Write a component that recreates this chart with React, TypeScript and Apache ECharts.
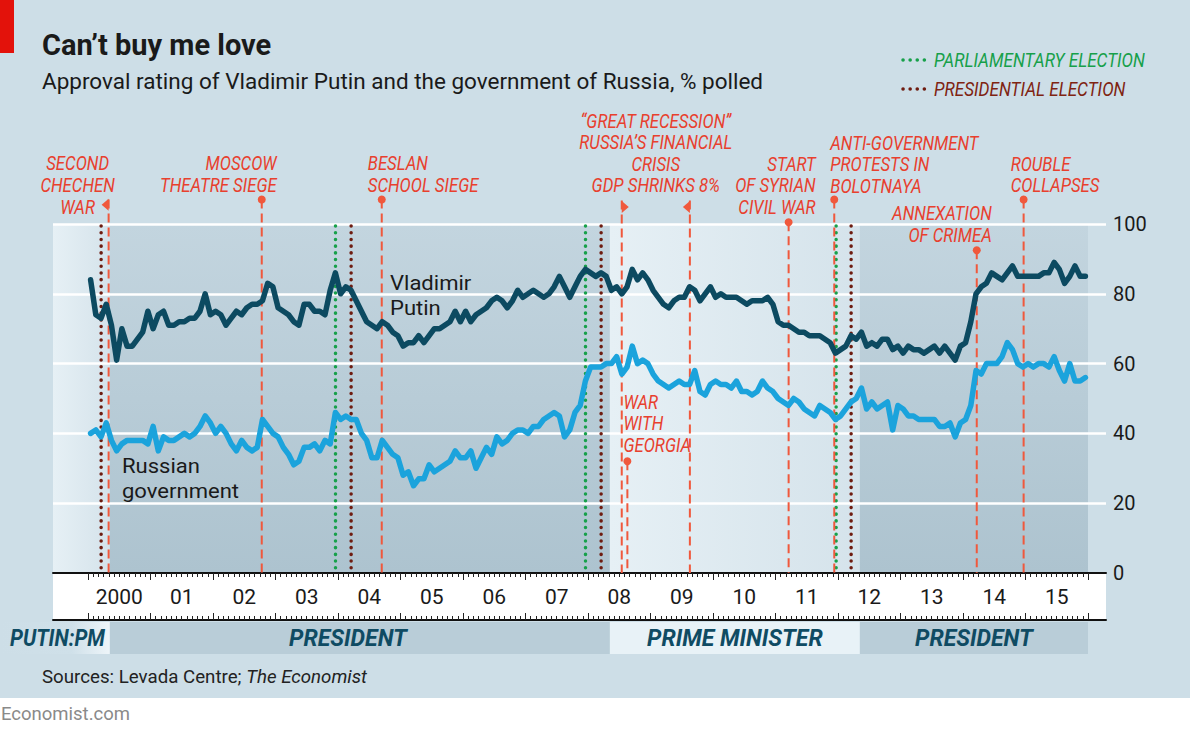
import React, { useEffect, useRef } from 'react';
import * as echarts from 'echarts';

// Monthly approval, Jan 2000 - Dec 2015, % polled
const putinApproval = [
  84, 74, 73, 77, 71, 61, 70, 65, 65, 67,
  69, 75, 70, 74, 75, 71, 71, 72, 72, 73,
  73, 75, 80, 74, 75, 74, 71, 73, 75, 74,
  76, 77, 77, 78, 83, 82, 76, 75, 74, 72,
  71, 77, 77, 75, 75, 74, 81, 86, 80, 82,
  81, 78, 75, 72, 71, 70, 72, 71, 69, 68,
  65, 66, 66, 68, 66, 68, 70, 70, 71, 72,
  75, 72, 75, 72, 74, 75, 76, 78, 79, 78,
  76, 78, 81, 79, 80, 81, 80, 79, 80, 82,
  85, 82, 79, 82, 85, 87, 86, 85, 86, 85,
  81, 82, 80, 82, 87, 84, 86, 84, 81, 79,
  77, 76, 78, 79, 79, 82, 81, 78, 80, 82,
  79, 80, 79, 79, 79, 78, 77, 78, 78, 78,
  79, 77, 72, 71, 71, 70, 69, 69, 68, 68,
  68, 67, 66, 63, 64, 65, 68, 67, 69, 65,
  66, 65, 67, 67, 64, 65, 63, 65, 64, 64,
  63, 64, 65, 63, 65, 63, 61, 65, 66, 72,
  80, 82, 83, 86, 85, 84, 86, 88, 85, 85,
  85, 85, 85, 86, 86, 89, 87, 83, 85, 88,
  85, 85,
];

const governmentApproval = [
  40, 41, 39, 43, 38, 35, 37, 38, 38, 38,
  38, 37, 42, 35, 39, 38, 38, 39, 40, 39,
  40, 42, 45, 43, 40, 42, 40, 37, 35, 38,
  36, 35, 36, 44, 42, 40, 39, 36, 34, 31,
  32, 36, 36, 37, 35, 38, 37, 46, 44, 45,
  44, 44, 40, 38, 33, 33, 38, 36, 34, 33,
  28, 29, 25, 27, 27, 31, 29, 30, 31, 32,
  35, 33, 33, 35, 30, 33, 36, 34, 39, 37,
  38, 40, 41, 41, 40, 42, 42, 44, 45, 46,
  45, 39, 41, 46, 48, 55, 59, 59, 59, 60,
  60, 62, 57, 59, 65, 60, 61, 60, 57, 55,
  54, 53, 54, 55, 54, 54, 58, 52, 51, 54,
  55, 54, 54, 53, 55, 52, 52, 51, 52, 55,
  53, 52, 50, 49, 48, 50, 49, 47, 46, 45,
  48, 47, 46, 44, 45, 47, 49, 50, 53, 47,
  49, 47, 48, 49, 41, 48, 47, 45, 45, 44,
  44, 44, 44, 42, 42, 43, 39, 43, 44, 48,
  58, 57, 60, 60, 60, 62, 66, 64, 60, 59,
  60, 59, 60, 60, 59, 62, 58, 55, 60, 55,
  55, 56,
];

const yearTickLabels = ['2000', '01', '02', '03', '04', '05', '06', '07', '08', '09', '10', '11', '12', '13', '14', '15'];

// Election dates (decimal years)
const parliamentaryElections = [2003.96, 2007.96, 2011.97];
const presidentialElections = [2000.21, 2004.21, 2008.21, 2012.21];

// Event dates (decimal years)
const eventChechenWar = 2000.33;
const eventMoscowTheatre = 2002.78;
const eventBeslan = 2004.7;
const eventRecessionStart = 2008.54;
const eventRecessionEnd = 2009.63;
const eventGeorgia = 2008.63;
const eventSyria = 2011.21;
const eventBolotnaya = 2011.94;
const eventCrimea = 2014.22;
const eventRouble = 2014.97;

// Putin's roles
const roleLabels = ['PUTIN:PM', 'PRESIDENT', 'PRIME MINISTER', 'PRESIDENT'];
const roleStarts = [1999.44, 2000.35, 2008.35, 2012.35];
const roleEnds = [2000.35, 2008.35, 2012.35, 2016.0];
const roleIsPM = [true, false, true, false];

const FONT = 'Roboto, "Noto Sans", "DejaVu Sans", sans-serif';
const RED_TEXT = '#e8402e';
const RED_LINE = '#f0583c';
const GREEN = '#17a04a';
const BROWN = '#6e1c10';
const BROWN_TEXT = '#7f2412';
const PUTIN_COLOR = '#0c4a61';
const GOV_COLOR = '#1ba3dc';
const ROLE_TEXT = '#0f4b63';

export default function App() {
  const ref = useRef<HTMLDivElement>(null);

  useEffect(() => {
    if (!ref.current) return;
    const chart = echarts.init(ref.current, undefined, { renderer: 'svg' });

    const X_MIN = 1999.44;
    const X_MAX = 2016.288;
    const STRIP = 47;
    const monthTicks: number[] = [];
    for (let k = 0; k <= 16 * 12; k++) monthTicks.push(2000 + k / 12);
    const yearTicks: number[] = [];
    for (let k = 0; k <= 16; k++) yearTicks.push(2000 + k);
    const yearLabelPos = yearTickLabels.map((_, k) => 2000 + k + 0.5);
    const toSeries = (vals: number[]) => vals.map((v, i) => [2000 + (i + 0.5) / 12, v]);

    const tickLine = { color: '#222', width: 1 };
    const baseAxis: any = {
      type: 'value',
      min: X_MIN,
      max: X_MAX,
      position: 'bottom',
      splitLine: { show: false },
      axisLabel: { show: false },
      axisTick: { show: false },
      axisLine: { show: false, onZero: false },
    };

    const presGrad = new echarts.graphic.LinearGradient(0, 0, 0, 1, [
      { offset: 0, color: '#c3d5df' },
      { offset: 1, color: '#adc3cf' },
    ]);
    const pmGrad = new echarts.graphic.LinearGradient(0, 0, 1, 0, [
      { offset: 0, color: '#e6f0f5' },
      { offset: 1, color: '#d5e3eb' },
    ]);

    chart.setOption({
      animation: false,
      grid: { left: 53, right: 84, top: 224, bottom: 159, containLabel: false, outerBoundsMode: 'none' },
      xAxis: [
        {
          ...baseAxis,
          axisLine: { show: true, onZero: false, lineStyle: { color: '#111', width: 2 } },
          axisTick: { show: true, customValues: monthTicks, length: 4, lineStyle: tickLine },
          axisLabel: {
            show: true,
            customValues: yearLabelPos,
            formatter: (v: number) => yearTickLabels[Math.floor(v) - 2000] ?? '',
            margin: 13,
            fontSize: 21,
            color: '#1a1a1a',
            fontFamily: FONT,
          },
        },
        { ...baseAxis, axisTick: { show: true, customValues: yearTicks, length: 7, lineStyle: tickLine } },
        {
          ...baseAxis,
          offset: STRIP,
          axisLine: { show: true, onZero: false, lineStyle: { color: '#111', width: 2 } },
          axisTick: { show: true, inside: true, customValues: monthTicks, length: 4, lineStyle: tickLine },
        },
        { ...baseAxis, offset: STRIP, axisTick: { show: true, inside: true, customValues: yearTicks, length: 7, lineStyle: tickLine } },
      ],
      yAxis: {
        type: 'value',
        min: 0,
        max: 100,
        interval: 20,
        position: 'right',
        axisLine: { show: false },
        axisTick: { show: false },
        axisLabel: { margin: 7, fontSize: 20, color: '#1a1a1a', fontFamily: FONT },
        splitLine: { show: true, lineStyle: { color: '#ffffff', width: 2.5 } },
      },
      series: [
        {
          type: 'line',
          name: 'roles',
          data: [],
          symbol: 'none',
          silent: true,
          markArea: {
            silent: true,
            z: -1,
            data: roleLabels.map((_, k) => [
              { xAxis: roleStarts[k], itemStyle: { color: roleIsPM[k] ? pmGrad : presGrad } },
              { xAxis: roleEnds[k] },
            ]),
          },
        },
        {
          type: 'line',
          name: 'Russian government',
          data: toSeries(governmentApproval),
          symbol: 'none',
          z: 3,
          lineStyle: { color: GOV_COLOR, width: 5.5, join: 'round', cap: 'round' },
        },
        {
          type: 'line',
          name: 'Vladimir Putin',
          data: toSeries(putinApproval),
          symbol: 'none',
          z: 4,
          lineStyle: { color: PUTIN_COLOR, width: 5.5, join: 'round', cap: 'round' },
        },
      ],
    });

    const px = (v: number) => chart.convertToPixel({ xAxisIndex: 0 }, v) as number;
    const py = (v: number) => chart.convertToPixel({ yAxisIndex: 0 }, v) as number;
    const gBottom = py(0);
    const gTop = py(100);
    const stripBottom = gBottom + STRIP;

    const text = (
      str: string,
      x: number,
      y: number,
      align: string,
      o: { size?: number; color?: string; italic?: boolean; weight?: string | number; scaleX?: number; lineHeight?: number; vAlign?: string } = {}
    ) => ({
      type: 'text',
      x,
      y,
      z: 30,
      scaleX: o.scaleX ?? 1,
      silent: true,
      style: {
        text: str,
        fill: o.color ?? '#1a1a1a',
        fontSize: o.size ?? 18,
        fontFamily: FONT,
        fontStyle: o.italic ? 'italic' : 'normal',
        fontWeight: o.weight ?? 'normal',
        lineHeight: o.lineHeight,
        align,
        verticalAlign: o.vAlign ?? 'middle',
      },
    });
    // multi-line red annotation; y = centre of first row
    const redText = (rows: string[], x: number, y: number, align: string, gap: number) =>
      text(rows.join('\n'), x, y - gap / 2, align, {
        size: 19.5, color: RED_TEXT, italic: true, scaleX: 0.86, lineHeight: gap, vAlign: 'top',
      });

    const els: any[] = [];
    // page background
    els.push({ type: 'rect', z: -100, silent: true, shape: { x: 0, y: 0, width: 1190, height: 698 }, style: { fill: '#cddee7' } });
    els.push({ type: 'rect', z: 30, silent: true, shape: { x: 0, y: 0, width: 14, height: 53 }, style: { fill: '#e3120b' } });
    // axis strip
    els.push({
      type: 'rect', z: -50, silent: true,
      shape: { x: px(X_MIN), y: gBottom, width: px(X_MAX) - px(X_MIN), height: STRIP },
      style: { fill: '#ffffff' },
    });
    // role bands below axis
    const bandY = stripBottom + 2;
    const bandH = 32;
    roleLabels.forEach((lab, k) => {
      const x0 = k === 0 ? 0 : px(roleStarts[k]);
      const x1 = px(roleEnds[k]);
      const fill = k === 0
        ? new echarts.graphic.LinearGradient(0, 0, 1, 0, [
            { offset: 0, color: '#cddee7' },
            { offset: 0.65, color: '#cfe0e9' },
            { offset: 1, color: '#eef5f9' },
          ])
        : roleIsPM[k] ? '#e8f2f7' : '#b9cdd8';
      els.push({ type: 'rect', z: -40, silent: true, shape: { x: x0, y: bandY, width: x1 - x0, height: bandH }, style: { fill } });
      const tx = k === 0 ? 10 : k === 1 ? px(2004.16) : (x0 + x1) / 2;
      els.push(text(lab, tx, bandY + bandH / 2, k === 0 ? 'left' : 'center', {
        size: 23, color: ROLE_TEXT, italic: true, weight: 'bold', scaleX: k === 0 ? 0.9 : 1,
      }));
    });

    // election lines
    const dotted = (x: number, color: string) => ({
      type: 'line', z: 1, silent: true,
      shape: { x1: x, y1: gTop + 2, x2: x, y2: gBottom },
      style: { stroke: color, lineWidth: 3.5, lineDash: [0.1, 6.6], lineCap: 'round' },
    });
    parliamentaryElections.forEach((d) => els.push(dotted(px(d), GREEN)));
    presidentialElections.forEach((d) => els.push(dotted(px(d), BROWN)));

    // event lines
    const dashed = (x: number, yTop: number) => ({
      type: 'line', z: 1, silent: true,
      shape: { x1: x, y1: yTop, x2: x, y2: gBottom },
      style: { stroke: RED_LINE, lineWidth: 2, lineDash: [9, 5] },
    });
    const dot = (x: number, y: number) => ({
      type: 'circle', z: 1, silent: true, shape: { cx: x, cy: y, r: 4 }, style: { fill: RED_LINE },
    });
    const tri = (x: number, y: number, dir: number) => ({
      type: 'polygon', z: 1, silent: true,
      shape: { points: [[x, y - 6], [x, y + 6], [x + dir * 7, y]] },
      style: { fill: RED_LINE },
    });

    const xChe = px(eventChechenWar);
    els.push(dashed(xChe, py(107)), tri(xChe, py(105.5), -1));
    els.push(redText(['SECOND', 'CHECHEN', 'WAR'], xChe - 31, 163, 'center', 22));

    const xMos = px(eventMoscowTheatre);
    els.push(dashed(xMos, py(107)), dot(xMos, py(107)));
    els.push(redText(['MOSCOW', 'THEATRE SIEGE'], xMos + 15, 163, 'right', 22));

    const xBes = px(eventBeslan);
    els.push(dashed(xBes, py(107)), dot(xBes, py(107)));
    els.push(redText(['BESLAN', 'SCHOOL SIEGE'], xBes - 14, 163, 'left', 22));

    const xR0 = px(eventRecessionStart);
    const xR1 = px(eventRecessionEnd);
    els.push(dashed(xR0, py(106.7)), tri(xR0, py(104.9), 1));
    els.push(dashed(xR1, py(106.7)), tri(xR1, py(104.9), -1));
    els.push(redText(['\u201CGREAT RECESSION\u201D', 'RUSSIA\u2019S FINANCIAL', 'CRISIS', 'GDP SHRINKS 8%'], (xR0 + xR1) / 2, 121, 'center', 21.5));

    const xGeo = px(eventGeorgia);
    els.push(dashed(xGeo, py(32)), dot(xGeo, py(32)));
    els.push(redText(['WAR', 'WITH', 'GEORGIA'], xGeo - 4, 402, 'left', 21.5));

    const xSyr = px(eventSyria);
    els.push(dashed(xSyr, py(100.5)), dot(xSyr, py(100.5)));
    els.push(redText(['START', 'OF SYRIAN', 'CIVIL WAR'], xSyr + 27, 164, 'right', 21.5));

    const xBol = px(eventBolotnaya);
    els.push(dashed(xBol, py(107)), dot(xBol, py(107)));
    els.push(redText(['ANTI-GOVERNMENT', 'PROTESTS IN', 'BOLOTNAYA'], xBol - 4, 143, 'left', 21.5));

    const xCri = px(eventCrimea);
    els.push(dashed(xCri, py(92.5)), dot(xCri, py(92.5)));
    els.push(redText(['ANNEXATION', 'OF CRIMEA'], xCri + 15, 213, 'right', 22));

    const xRou = px(eventRouble);
    els.push(dashed(xRou, py(107)), dot(xRou, py(107)));
    els.push(redText(['ROUBLE', 'COLLAPSES'], xRou - 13, 164, 'left', 21.5));

    // series labels
    els.push(text('Vladimir\nPutin', 390, 283 - 12.25, 'left', { size: 21, lineHeight: 24.5, vAlign: 'top', scaleX: 1.05 }));
    els.push(text('Russian\ngovernment', 122, 466 - 12.25, 'left', { size: 21, lineHeight: 24.5, vAlign: 'top', scaleX: 1.05 }));

    // titles
    els.push(text('Can\u2019t buy me love', 42, 45, 'left', { size: 29, weight: 'bold' }));
    els.push(text('Approval rating of Vladimir Putin and the government of Russia, % polled', 42, 81, 'left', { size: 22.5 }));

    // legend
    els.push({ type: 'line', z: 30, silent: true, shape: { x1: 903, y1: 60, x2: 925, y2: 60 }, style: { stroke: GREEN, lineWidth: 3.5, lineDash: [0.1, 7], lineCap: 'round' } });
    els.push({ type: 'line', z: 30, silent: true, shape: { x1: 903, y1: 89, x2: 925, y2: 89 }, style: { stroke: BROWN, lineWidth: 3.5, lineDash: [0.1, 7], lineCap: 'round' } });
    els.push(text('PARLIAMENTARY ELECTION', 934, 60, 'left', { size: 19.5, color: GREEN, italic: true, scaleX: 0.88 }));
    els.push(text('PRESIDENTIAL ELECTION', 934, 89, 'left', { size: 19.5, color: BROWN_TEXT, italic: true, scaleX: 0.88 }));

    // footer
    els.push({
      type: 'text', x: 42, y: 677, z: 30, silent: true,
      style: {
        text: '{a|Sources: Levada Centre; }{b|The Economist}',
        verticalAlign: 'middle',
        align: 'left',
        rich: {
          a: { fontSize: 18.7, fontFamily: FONT, fill: '#222' },
          b: { fontSize: 18.7, fontFamily: FONT, fill: '#222', fontStyle: 'italic' },
        },
      },
    });
    els.push(text('Economist.com', 1, 714, 'left', { size: 18.5, color: '#8a8a8a' }));

    chart.setOption({ graphic: { elements: els } });

    return () => chart.dispose();
  }, []);

  return <div ref={ref} style={{ position: 'absolute', left: 0, top: 0, width: 1190, height: 732 }} />;
}
